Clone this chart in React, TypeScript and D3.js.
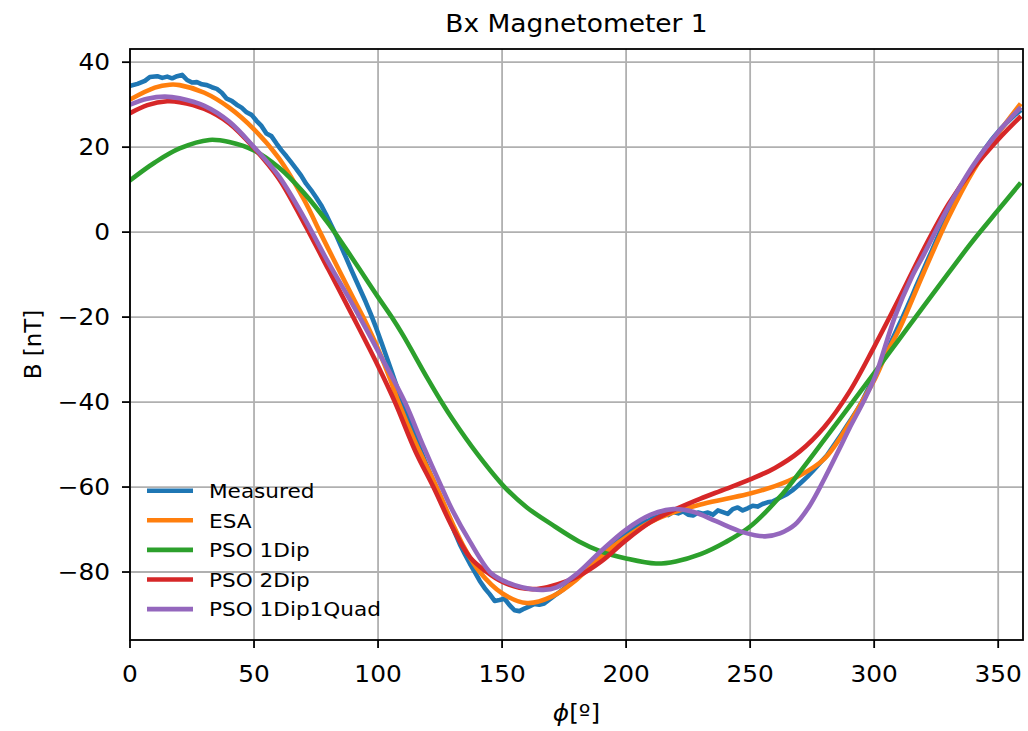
import React from 'react';
import * as d3 from 'd3';

const xTicks = [0, 50, 100, 150, 200, 250, 300, 350];
const yTicks = [-80, -60, -40, -20, 0, 20, 40];
const seriesNames = ['Measured', 'ESA', 'PSO 1Dip', 'PSO 2Dip', 'PSO 1Dip1Quad'];
const seriesColors = ['#1f77b4', '#ff7f0e', '#2ca02c', '#d62728', '#9467bd'];

const measuredPhi = [0, 3, 6, 8, 11, 13, 15, 17, 19, 21, 23, 25, 27, 29, 31, 33, 35, 37, 39, 41, 43, 45, 47, 49, 51, 53, 55, 57, 59, 61, 63, 65, 67, 69, 71, 73, 75, 77, 79, 81, 83, 85, 87, 89, 91, 93, 95, 97, 99, 101, 103, 105, 107, 109, 111, 113, 115, 117, 119, 121, 123, 125, 127, 129, 131, 133, 135, 137, 139, 141, 143, 145, 147, 149, 151, 153, 155, 157, 159, 161, 163, 165, 167, 169, 171, 173, 175, 177, 179, 181, 183, 185, 187, 189, 191, 193, 195, 197, 199, 201, 203, 205, 207, 209, 211, 213, 215, 217, 219, 221, 223, 225, 227, 229, 231, 233, 235, 237, 239, 241, 243, 245, 247, 249, 251, 253, 255, 257, 259, 261, 263, 265, 267, 269, 271, 273, 275, 277, 279, 281, 283, 285, 287, 289, 291, 293, 295, 297, 299, 301, 303, 305, 307, 309, 311, 313, 315, 317, 319, 321, 323, 325, 327, 329, 331, 333, 335, 337, 339, 341, 343, 345, 347, 349, 351, 353, 355, 357, 358.5];
const measuredB = [34.4, 34.9, 35.6, 36.5, 36.7, 36.3, 36.6, 36.2, 36.7, 37.0, 35.8, 35.2, 35.3, 34.8, 34.6, 34.1, 33.7, 32.8, 31.4, 30.9, 30.0, 29.3, 28.2, 27.6, 26.2, 25.0, 23.2, 22.6, 20.9, 19.3, 17.9, 16.4, 14.9, 13.3, 11.4, 9.9, 8.2, 6.4, 4.2, 1.8, -0.6, -3.2, -5.9, -8.6, -11.2, -13.8, -16.4, -19.2, -22.2, -25.4, -28.7, -32.0, -35.4, -38.8, -42.1, -45.2, -48.2, -51.1, -54.0, -56.8, -59.5, -62.3, -65.2, -67.9, -70.8, -73.5, -75.8, -78.0, -80.0, -82.1, -83.8, -85.2, -86.8, -86.6, -86.3, -87.8, -89.0, -89.2, -88.6, -88.1, -87.5, -87.7, -87.4, -86.5, -85.6, -84.8, -83.9, -82.8, -81.8, -80.6, -79.6, -78.4, -77.3, -76.2, -75.1, -74.0, -72.9, -72.0, -71.2, -70.4, -69.7, -68.9, -68.2, -67.9, -67.2, -66.9, -66.3, -66.6, -65.9, -66.2, -65.7, -66.5, -66.7, -66.0, -66.3, -66.0, -66.5, -65.5, -65.9, -66.3, -65.2, -64.8, -65.5, -65.0, -64.4, -64.6, -64.0, -63.6, -63.4, -62.8, -62.2, -61.6, -60.8, -59.8, -58.7, -57.6, -56.4, -55.1, -53.8, -52.5, -50.8, -49.1, -47.4, -45.6, -43.8, -42.0, -40.0, -37.6, -35.3, -33.2, -30.7, -28.2, -25.6, -23.1, -20.6, -18.0, -15.4, -12.6, -10.0, -7.3, -4.7, -2.0, 0.6, 3.1, 5.5, 7.9, 10.1, 12.3, 14.4, 16.3, 18.2, 19.9, 21.5, 22.9, 24.3, 25.5, 26.6, 27.7, 28.4];

const esaPhi = [0, 10, 16, 20, 30, 40, 50, 60, 70, 76.6, 80, 90, 94, 100, 105, 108.2, 115, 123.6, 130, 135, 141, 150, 160, 170, 180, 190, 200, 210, 220, 230, 240, 250, 260, 270, 280, 290, 295, 300.5, 305, 310, 320, 330, 340, 350, 358.5];
const esaB = [31.2, 34.0, 34.7, 34.6, 32.8, 29.3, 24.2, 17.4, 7.8, 0, -4, -15.5, -20, -27.5, -34.8, -40, -49.5, -60, -68.5, -74.5, -80, -85, -87.3, -85.8, -81.8, -76.2, -71.8, -68.2, -65.8, -64.1, -62.8, -61.5, -59.8, -57.3, -53.3, -45, -40, -34.3, -28.5, -23, -9.5, 3.5, 14.5, 23.2, 29.8];

const dip1Phi = [0, 10, 20, 32, 40, 50, 60, 70, 80, 90, 100, 105.5, 110, 120, 125.6, 130, 140, 151, 160, 170, 181, 190, 200, 212, 220, 230, 240, 250, 262, 270, 280, 290, 300, 310, 320, 330, 337.2, 340, 350, 358.5];
const dip1B = [12.2, 16.4, 19.7, 21.7, 21.2, 19.2, 15.2, 9.3, 2.0, -6.5, -15.3, -20, -24.2, -34.5, -40, -44, -52.2, -60, -64.8, -68.8, -72.8, -75.2, -76.8, -78, -77.5, -75.8, -73.0, -69.3, -62.3, -56.5, -48.8, -41, -33.2, -25.3, -17.4, -9.6, -4.0, -1.9, 5.2, 11.2];

const dip2Phi = [0, 7, 15, 20, 30, 40, 50, 60, 70, 80, 90, 100, 106.8, 115, 122.3, 130, 137, 143.8, 150, 157, 164, 170, 180, 190, 200, 210, 220, 230, 240, 250, 260, 270, 280, 290, 300, 310, 320, 330, 340, 350, 358.5];
const dip2B = [28, 29.9, 30.8, 30.6, 29, 25.6, 19.8, 12.6, 2.3, -8.8, -20, -31.5, -40, -51.5, -60, -69.5, -76.5, -80, -82.3, -83.7, -84, -83.3, -81.2, -77.5, -72.5, -68.2, -65.2, -62.7, -60.5, -58.2, -55.5, -51.6, -45.8, -37.6, -27, -15.7, -4, 6.6, 15, 21.8, 26.9];

const quadPhi = [0, 7, 14, 20, 30, 40, 50, 60, 70, 80, 90, 100, 110.8, 118, 125.6, 130, 137, 145.1, 150, 158, 166.6, 172, 180, 190, 200, 210, 219, 227, 236.5, 247, 256, 262, 268, 274, 280, 286, 290, 295.6, 300.5, 308.3, 315, 320, 330, 340, 350, 358.5];
const quadB = [30, 31.4, 31.9, 31.5, 29.7, 26, 20, 13.2, 3.6, -7.2, -17.3, -28, -40, -50, -60, -65.5, -72.8, -80, -81.9, -83.6, -84.2, -83.6, -80.5, -75, -70, -66.5, -65.2, -65.8, -68.1, -70.6, -71.6, -70.9, -68.9, -64.4, -58, -51, -46.2, -40, -33.8, -20, -10.8, -5.3, 6, 15.8, 23.5, 29];

const W = 1028;
const H = 731;
const FONT = 'DejaVu Sans';
const SX = 1.08;

function fmt(v: number) {
  return v < 0 ? '\u2212' + Math.abs(v) : String(v);
}

function T({ x, y, size, anchor = 'start', children, sx = SX, rotate = 0 }: any) {
  return (
    <g transform={`translate(${x},${y}) rotate(${rotate}) scale(${sx},1)`}>
      <text x={0} y={0} fontSize={size} textAnchor={anchor} fontFamily={FONT} fill="#000">
        {children}
      </text>
    </g>
  );
}

export default function App() {
  const L = 130, R = 1023, TOP = 49, B = 640;
  const x = d3.scaleLinear().domain([0, 360]).range([L, R]);
  const y = d3.scaleLinear().domain([-96, 43.1]).range([B, TOP]);

  const zip = (a: number[], b: number[]) => a.map((v, i) => [v, b[i]] as [number, number]);
  const smooth = d3.line<[number, number]>().x(d => x(d[0])).y(d => y(d[1])).curve(d3.curveCatmullRom.alpha(0.5));
  const raw = d3.line<[number, number]>().x(d => x(d[0])).y(d => y(d[1])).curve(d3.curveLinear);

  const paths = [
    raw(zip(measuredPhi, measuredB)),
    smooth(zip(esaPhi, esaB)),
    smooth(zip(dip1Phi, dip1B)),
    smooth(zip(dip2Phi, dip2B)),
    smooth(zip(quadPhi, quadB)),
  ];

  const lw = 4.6;
  const legX = 147, legLen = 46, legY0 = 490.7, legDy = 29.6;

  return (
    <svg width={W} height={H} style={{ position: 'absolute', left: 0, top: 0 }}>
      <rect x={0} y={0} width={W} height={H} fill="#fff" />
      <defs>
        <clipPath id="plotclip">
          <rect x={L} y={TOP} width={R - L} height={B - TOP} />
        </clipPath>
      </defs>
      <g stroke="#b0b0b0" strokeWidth={1.8}>
        {xTicks.map(t => <line key={'gx' + t} x1={x(t)} x2={x(t)} y1={TOP} y2={B} />)}
        {yTicks.map(t => <line key={'gy' + t} x1={L} x2={R} y1={y(t)} y2={y(t)} />)}
      </g>
      <g clipPath="url(#plotclip)" fill="none" strokeLinejoin="round" strokeLinecap="square">
        {paths.map((p, i) => <path key={i} d={p || ''} stroke={seriesColors[i]} strokeWidth={lw} />)}
      </g>
      <rect x={L} y={TOP} width={R - L} height={B - TOP} fill="none" stroke="#000" strokeWidth={1.8} />
      <g stroke="#000" strokeWidth={1.8}>
        {xTicks.map(t => <line key={'tx' + t} x1={x(t)} x2={x(t)} y1={B} y2={B + 8} />)}
        {yTicks.map(t => <line key={'ty' + t} x1={L - 8} x2={L} y1={y(t)} y2={y(t)} />)}
      </g>
      {xTicks.map(t => (
        <T key={'lx' + t} x={x(t)} y={682} size={23} anchor="middle">{fmt(t)}</T>
      ))}
      {yTicks.map(t => (
        <T key={'ly' + t} x={110} y={y(t) + 8.3} size={23} anchor="end">{fmt(t)}</T>
      ))}
      <T x={576.5} y={32} size={24.5} anchor="middle">Bx Magnetometer 1</T>
      <T x={576.5} y={721} size={23} anchor="middle">
        <tspan fontStyle="italic">{'\u03D5'}</tspan>
        <tspan>[º]</tspan>
      </T>
      <T x={41} y={344.5} size={23} anchor="middle" sx={1} rotate={-90}>B [nT]</T>
      {seriesNames.map((n, i) => (
        <g key={'lg' + i}>
          <line x1={legX} x2={legX + legLen} y1={legY0 + i * legDy} y2={legY0 + i * legDy} stroke={seriesColors[i]} strokeWidth={lw} />
          <T x={209} y={legY0 + i * legDy + 7.2} size={20}>{n}</T>
        </g>
      ))}
    </svg>
  );
}
